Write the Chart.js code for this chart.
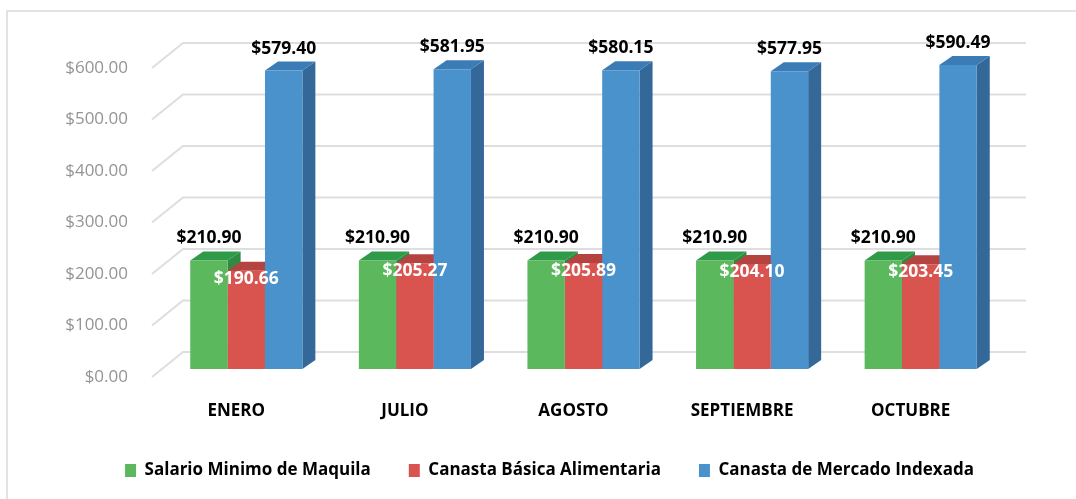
<!DOCTYPE html>
<html>
<head>
<meta charset="utf-8">
<script src="https://cdn.jsdelivr.net/npm/chart.js@4/dist/chart.umd.min.js"></script>
<style>
  html, body { margin: 0; padding: 0; background: #fff; }
  #wrap { width: 1076px; height: 499px; }
</style>
</head>
<body>
<div id="wrap"><canvas id="chart"></canvas></div>
<script>
// datos
const meses = ['ENERO', 'JULIO', 'AGOSTO', 'SEPTIEMBRE', 'OCTUBRE'];
const salarioMinimo = [210.90, 210.90, 210.90, 210.90, 210.90];
const canastaBasica = [190.66, 205.27, 205.89, 204.10, 203.45];
const canastaMercado = [579.40, 581.95, 580.15, 577.95, 590.49];
const ejeY = [0, 100, 200, 300, 400, 500, 600];

const series = [
    { label: 'Salario Minimo de Maquila', data: salarioMinimo, front: '#5cb85c', top: '#2f9a48', side: '#2f8a42', text: '#000' },
    { label: 'Canasta Básica Alimentaria', data: canastaBasica, front: '#d9534f', top: '#b5433f', side: '#a93e3a', text: '#fff' },
    { label: 'Canasta de Mercado Indexada', data: canastaMercado, front: '#4a92cc', top: '#3b7cb6', side: '#336898', text: '#000' }
];

// desplazamientos del efecto 3D
const FRONT = { dx: 10, dy: -8 };
const DEPTH = { dx: 13, dy: -9 };
const WALL = { dx: 31, dy: -25 };
const FONT = "'Open Sans', 'DejaVu Sans', sans-serif";

const money = v => '$' + v.toFixed(2);

const fondo3d = {
    id: 'fondo3d',
    afterLayout(chart) {
        // la leyenda del original esta corrida a la derecha
        chart.legend.left += 52;
        chart.legend.right += 52;
    },
    beforeDraw(chart) {
        const { ctx, chartArea: a, scales: { y } } = chart;
        ctx.save();
        ctx.fillStyle = '#fff';
        ctx.fillRect(0, 0, chart.width, chart.height);
        // marco exterior
        ctx.strokeStyle = '#e3e3e3';
        ctx.lineWidth = 2;
        ctx.beginPath();
        ctx.moveTo(7, chart.height);
        ctx.lineTo(7, 11);
        ctx.lineTo(chart.width, 11);
        ctx.stroke();
        // lineas de cuadricula en pared lateral y pared de fondo
        ctx.strokeStyle = '#dedede';
        ctx.lineWidth = 2;
        ejeY.forEach(v => {
            const py = y.getPixelForValue(v);
            ctx.beginPath();
            ctx.moveTo(a.left, py);
            ctx.lineTo(a.left + WALL.dx, py + WALL.dy);
            ctx.lineTo(a.right + WALL.dx, py + WALL.dy);
            ctx.stroke();
        });
        ctx.restore();
    },
    beforeDatasetsDraw(chart) {
        const { ctx } = chart;
        ctx.save();
        ctx.translate(FRONT.dx, FRONT.dy);
        // caras superior y lateral; la cara frontal la dibuja Chart.js
        meses.forEach((m, i) => {
            series.forEach((s, d) => {
                const bar = chart.getDatasetMeta(d).data[i];
                const x0 = bar.x - bar.width / 2, x1 = bar.x + bar.width / 2;
                const yt = bar.y, yb = bar.base;
                ctx.fillStyle = s.side;
                ctx.beginPath();
                ctx.moveTo(x1, yt);
                ctx.lineTo(x1 + DEPTH.dx, yt + DEPTH.dy);
                ctx.lineTo(x1 + DEPTH.dx, yb + DEPTH.dy);
                ctx.lineTo(x1, yb);
                ctx.closePath();
                ctx.fill();
                ctx.fillStyle = s.top;
                ctx.beginPath();
                ctx.moveTo(x0, yt);
                ctx.lineTo(x0 + DEPTH.dx, yt + DEPTH.dy);
                ctx.lineTo(x1 + DEPTH.dx, yt + DEPTH.dy);
                ctx.lineTo(x1, yt);
                ctx.closePath();
                ctx.fill();
            });
        });
    },
    afterDatasetsDraw(chart) {
        const { ctx } = chart;
        ctx.restore();
        // etiquetas de valores
        ctx.save();
        ctx.font = 'bold 17.5px ' + FONT;
        ctx.textAlign = 'center';
        ctx.textBaseline = 'middle';
        series.forEach((s, d) => {
            chart.getDatasetMeta(d).data.forEach((bar, i) => {
                const cx = bar.x + FRONT.dx;
                const top = bar.y + FRONT.dy;
                ctx.fillStyle = s.text;
                const ly = d === 1 ? top + 8 : top - 22;
                ctx.fillText(money(s.data[i]), cx, ly);
            });
        });
        ctx.restore();
    }
};

new Chart(document.getElementById('chart'), {
    type: 'bar',
    data: {
        labels: meses,
        datasets: series.map(s => ({
            label: s.label,
            data: s.data,
            backgroundColor: s.front,
            borderWidth: 0,
            barPercentage: 1,
            categoryPercentage: 0.665
        }))
    },
    options: {
        responsive: true,
        maintainAspectRatio: false,
        animation: false,
        layout: { padding: { left: 0, right: 81, top: 68, bottom: 10 } },
        plugins: {
            legend: {
                position: 'bottom',
                labels: {
                    boxWidth: 11,
                    boxHeight: 13,
                    padding: 38,
                    color: '#000',
                    font: { family: FONT, size: 17, weight: 'bold' }
                }
            },
            tooltip: { enabled: false }
        },
        scales: {
            x: {
                grid: { display: false, drawTicks: false },
                border: { display: false },
                ticks: {
                    padding: 24,
                    color: '#000',
                    font: { family: FONT, size: 17, weight: 'bold' }
                },
                afterFit: scale => { scale.height = 47; }
            },
            y: {
                min: 0,
                max: 600,
                grid: { display: false, drawTicks: false },
                border: { display: false },
                ticks: {
                    stepSize: 100,
                    padding: 24,
                    color: '#949494',
                    font: { family: FONT, size: 17 },
                    callback: v => money(v)
                },
                afterFit: scale => { scale.width = 152; }
            }
        }
    },
    plugins: [fondo3d]
});
</script>
</body>
</html>
